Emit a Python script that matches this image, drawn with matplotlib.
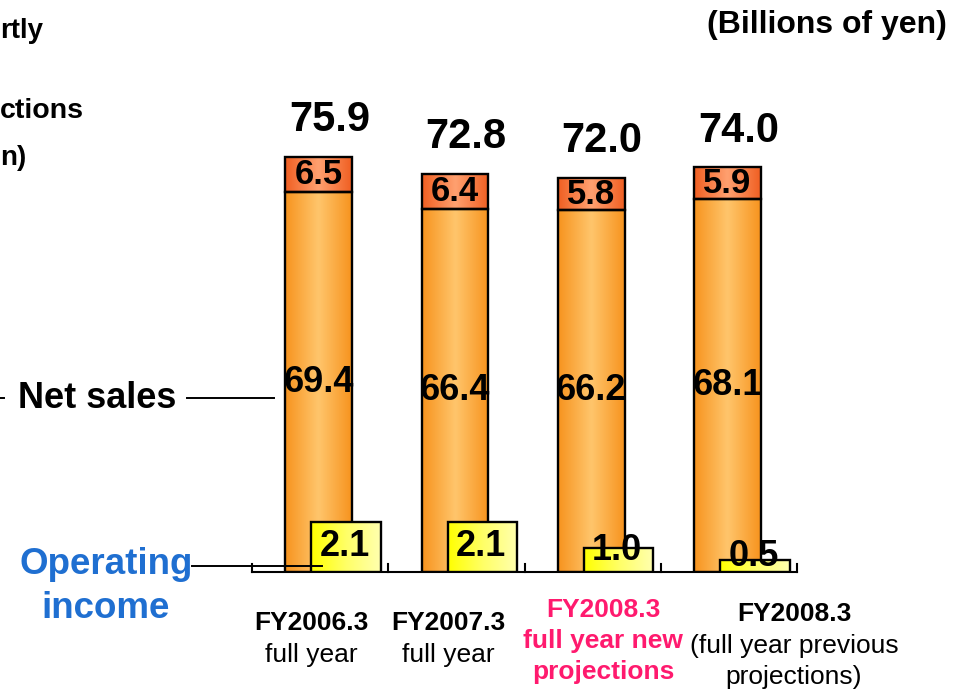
import matplotlib
matplotlib.use("Agg")
import matplotlib.pyplot as plt
import numpy as np
from matplotlib.colors import LinearSegmentedColormap

plt.rcParams['font.family'] = ['Liberation Sans', 'DejaVu Sans']

# data (billions of yen)
periods = ["FY2006.3", "FY2007.3", "FY2008.3 new", "FY2008.3 previous"]
net_sales_main = [69.4, 66.4, 66.2, 68.1]
net_sales_top = [6.5, 6.4, 5.8, 5.9]
net_sales_total = [75.9, 72.8, 72.0, 74.0]
operating_income = [2.1, 2.1, 1.0, 0.5]

label_lines = [
    ["FY2006.3", "full year"],
    ["FY2007.3", "full year"],
    ["FY2008.3", "full year new", "projections"],
    ["FY2008.3", "(full year previous", "projections)"],
]

W, H = 965, 695
fig = plt.figure(figsize=(W / 100, H / 100), dpi=100)

def fx(px):
    return px / W

def fy(py):
    return 1 - py / H

# axes box in pixels: x 252..797, baseline 572, top 100
ax = fig.add_axes([fx(252), fy(572), fx(797 - 252), (572 - 100) / H])
ax2 = ax.twinx()
for a in (ax, ax2):
    a.set_axis_off()

orange = LinearSegmentedColormap.from_list("o", ["#F7931E", "#FFC56C", "#F7931E"])
red = LinearSegmentedColormap.from_list("r", ["#F05F22", "#FFA070", "#F05F22"])
yellow = LinearSegmentedColormap.from_list("y", ["#FFFF00", "#FFFF66", "#FFFFB0"])
grad = np.linspace(0, 1, 256).reshape(1, -1)

def fill_gradient(a, bars, cmap):
    for b in bars:
        x0, y0 = b.get_x(), b.get_y()
        a.imshow(grad, cmap=cmap, extent=[x0, x0 + b.get_width(), y0, y0 + b.get_height()],
                 aspect='auto', zorder=b.get_zorder() - 0.1, interpolation='bicubic')

x = np.arange(len(periods))
bw = 0.49
b1 = ax.bar(x - 0.01, net_sales_main, bw, facecolor='none', edgecolor='black', linewidth=1.7, zorder=3)
b2 = ax.bar(x - 0.01, net_sales_top, bw, bottom=net_sales_main, facecolor='none',
            edgecolor='black', linewidth=1.7, zorder=3)
fill_gradient(ax, b1, orange)
fill_gradient(ax, b2, red)
b3 = ax2.bar(x + 0.19, operating_income, 0.51, facecolor='none', edgecolor='black', linewidth=1.7, zorder=3)
fill_gradient(ax2, b3, yellow)
ax.set_xlim(-0.5, 3.5)
ax2.set_xlim(-0.5, 3.5)
ax.set_ylim(0, 472 / 5.47)
ax2.set_ylim(0, 472 / 24.0)

# value labels
for i in range(len(periods)):
    ax.text(x[i] - 0.01, net_sales_main[i] / 2, f"{net_sales_main[i]:.1f}", ha='center', va='center',
            fontsize=26, fontweight='bold', zorder=5)
    ax.text(x[i] - 0.01, net_sales_main[i] + net_sales_top[i] / 2, f"{net_sales_top[i]:.1f}",
            ha='center', va='center', fontsize=25, fontweight='bold', zorder=5)
    ax.annotate(f"{net_sales_total[i]:.1f}", (x[i] + 0.07, net_sales_total[i]), xytext=(0, 12),
                textcoords='offset points', ha='center', va='bottom', fontsize=30, fontweight='bold')
    v = operating_income[i]
    dy = 0 if v > 1.5 else 7
    ax2.annotate(f"{v:.1f}", (x[i] + 0.18, v / 2), xytext=(0, dy), textcoords='offset points',
                 ha='center', va='center', fontsize=26, fontweight='bold', zorder=6)

# baseline with category ticks
ax.plot([-0.5, 3.5], [0, 0], color='black', lw=1.5, clip_on=False, zorder=4)
for t in np.arange(-0.5, 4.0, 1.0):
    ax.plot([t, t], [0, 8 / 5.47], color='black', lw=1.5, clip_on=False, zorder=4)

# leader lines and side labels
fig.add_artist(plt.Line2D([fx(187), fx(274)], [fy(398), fy(398)], color='black', lw=1.4))
fig.add_artist(plt.Line2D([fx(0), fx(4)], [fy(398), fy(398)], color='black', lw=1.4))
fig.add_artist(plt.Line2D([fx(192), fx(322)], [fy(566), fy(566)], color='black', lw=1.4, zorder=10))
fig.text(fx(97), fy(399), "Net sales", ha='center', va='center', fontsize=26, fontweight='bold')
fig.text(fx(106), fy(565), "Operating", ha='center', va='center', fontsize=26.5, fontweight='bold',
         color='#1F6FD1')
fig.text(fx(106), fy(608), "income", ha='center', va='center', fontsize=26.5, fontweight='bold',
         color='#1F6FD1')

fig.text(fx(947), fy(25), "(Billions of yen)", ha='right', va='center', fontsize=23, fontweight='bold')

# clipped notes at the top left
fig.text(0, fy(38), "rtly", ha='left', va='baseline', fontsize=20, fontweight='bold')
fig.text(0, fy(118), "ctions", ha='left', va='baseline', fontsize=20.5, fontweight='bold')
fig.text(0, fy(165), "n)", ha='left', va='baseline', fontsize=20, fontweight='bold')

# category labels
label_x = [311, 448, 603, 794]
label_y = [[623, 655], [623, 655], [610, 641, 672], [614, 646, 677]]
label_color = ['black', 'black', '#FF1A6E', 'black']
for i, lines in enumerate(label_lines):
    for j, s in enumerate(lines):
        bold = j == 0 or i == 2
        fig.text(fx(label_x[i]), fy(label_y[i][j]), s, ha='center', va='center', fontsize=19,
                 fontweight='bold' if bold else 'normal', color=label_color[i])

fig.savefig("out.png", dpi=100)
